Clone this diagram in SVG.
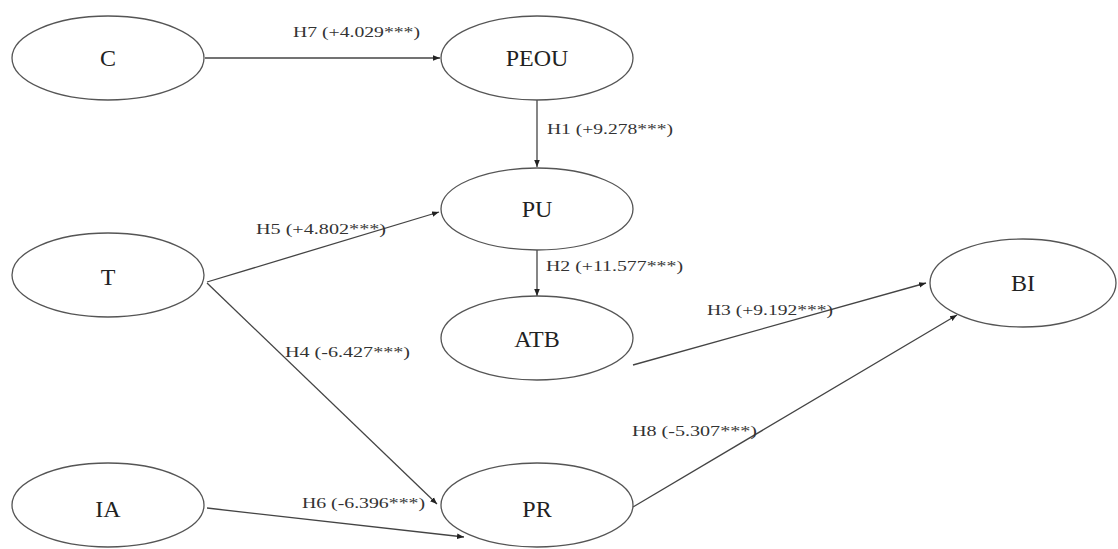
<svg xmlns="http://www.w3.org/2000/svg" width="1118" height="549" viewBox="0 0 1118 549">
  <style>
    .node ellipse { fill: #ffffff; stroke: #555555; stroke-width: 1.3; }
    .node text { font-family: "Liberation Serif", "Times New Roman", serif; font-size: 24px; fill: #222222; text-anchor: middle; dominant-baseline: central; }
    .edge { stroke: #444444; stroke-width: 1.3; fill: none; marker-end: url(#arrow); }
    .lbl { font-family: "Liberation Serif", "Times New Roman", serif; font-size: 15px; fill: #333333; }
  </style>
  <defs>
    <marker id="arrow" viewBox="0 0 10 10" refX="10" refY="5" markerWidth="7" markerHeight="7" markerUnits="userSpaceOnUse" orient="auto">
      <path d="M0,1 L10,5 L0,9 z" fill="#222222"/>
    </marker>
  </defs>
  <rect width="1118" height="549" fill="#ffffff"/>

  <g id="connectors">
    <line class="edge" x1="205" y1="58" x2="440" y2="58"/>
    <line class="edge" x1="537" y1="100" x2="537" y2="167"/>
    <line class="edge" x1="207" y1="282" x2="439" y2="212"/>
    <line class="edge" x1="207" y1="283" x2="437" y2="504"/>
    <line class="edge" x1="537" y1="250" x2="537" y2="296"/>
    <line class="edge" x1="633" y1="365" x2="926" y2="283"/>
    <line class="edge" x1="633" y1="507" x2="957" y2="315"/>
    <line class="edge" x1="207" y1="508" x2="464" y2="537"/>

    <text class="lbl" x="293" y="37" textLength="127" lengthAdjust="spacingAndGlyphs">H7 (+4.029***)</text>
    <text class="lbl" x="547" y="134" textLength="126" lengthAdjust="spacingAndGlyphs">H1 (+9.278***)</text>
    <text class="lbl" x="256" y="234" textLength="130" lengthAdjust="spacingAndGlyphs">H5 (+4.802***)</text>
    <text class="lbl" x="285" y="357" textLength="125" lengthAdjust="spacingAndGlyphs">H4 (-6.427***)</text>
    <text class="lbl" x="546" y="271" textLength="137" lengthAdjust="spacingAndGlyphs">H2 (+11.577***)</text>
    <text class="lbl" x="707" y="315" textLength="126" lengthAdjust="spacingAndGlyphs">H3 (+9.192***)</text>
    <text class="lbl" x="632" y="436" textLength="125" lengthAdjust="spacingAndGlyphs">H8 (-5.307***)</text>
    <text class="lbl" x="302" y="508" textLength="123" lengthAdjust="spacingAndGlyphs">H6 (-6.396***)</text>
  </g>

  <g id="node-C" class="node">
    <ellipse cx="108" cy="58" rx="96" ry="42"/>
    <text x="108" y="58">C</text>
  </g>
  <g id="node-PEOU" class="node">
    <ellipse cx="537" cy="58" rx="96" ry="42"/>
    <text x="537" y="58">PEOU</text>
  </g>
  <g id="node-PU" class="node">
    <ellipse cx="537" cy="209" rx="96" ry="41"/>
    <text x="537" y="209">PU</text>
  </g>
  <g id="node-T" class="node">
    <ellipse cx="108" cy="275" rx="96" ry="42"/>
    <text x="108" y="277">T</text>
  </g>
  <g id="node-ATB" class="node">
    <ellipse cx="537" cy="338" rx="96" ry="42"/>
    <text x="537" y="339">ATB</text>
  </g>
  <g id="node-BI" class="node">
    <ellipse cx="1023" cy="283" rx="93" ry="44"/>
    <text x="1023" y="283">BI</text>
  </g>
  <g id="node-IA" class="node">
    <ellipse cx="108" cy="505" rx="96" ry="42"/>
    <text x="108" y="509">IA</text>
  </g>
  <g id="node-PR" class="node">
    <ellipse cx="537" cy="505" rx="96" ry="42"/>
    <text x="537" y="509">PR</text>
  </g>
</svg>
